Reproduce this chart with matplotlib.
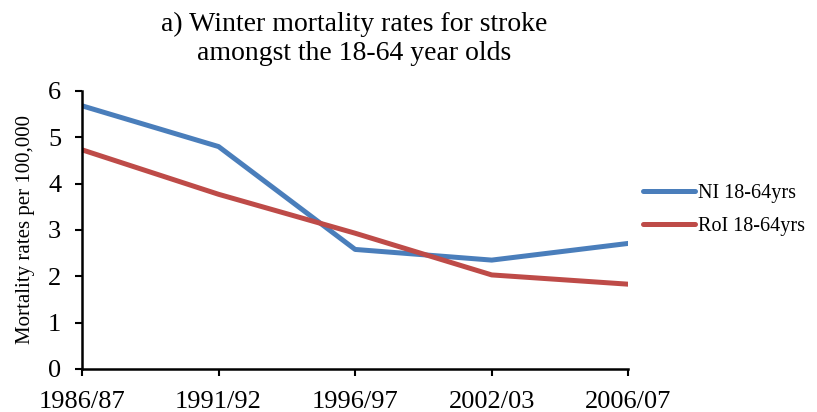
import matplotlib.pyplot as plt

seasons = ["1986/87", "1991/92", "1996/97", "2002/03", "2006/07"]
ni_rates = [5.68, 4.80, 2.58, 2.35, 2.71]
roi_rates = [4.73, 3.77, 2.93, 2.03, 1.83]

plt.rcParams['font.family'] = ['Liberation Serif', 'DejaVu Serif']

fig = plt.figure(figsize=(8.17, 4.12), dpi=100)
ax = fig.add_axes([0.1004, 0.1044, 0.6686, 0.6748])

x = range(len(seasons))
ax.plot(x, ni_rates, color='#4A7EBB', lw=3.6, label='NI 18-64yrs', solid_capstyle='round')
ax.plot(x, roi_rates, color='#BE4B48', lw=3.6, label='RoI 18-64yrs', solid_capstyle='round')

ax.set_xlim(0, len(seasons) - 1)
ax.set_ylim(0, 6)
ax.set_xticks(list(x))
ax.set_xticklabels(seasons, fontsize=19)
ax.set_yticks(range(0, 7))
ax.tick_params(axis='y', labelsize=19, direction='out', length=5, width=1.5, pad=10)
ax.tick_params(axis='x', direction='out', length=5, width=1.5, pad=11)
ax.set_ylabel('Mortality rates per 100,000', fontsize=15, labelpad=9)

for side in ('top', 'right'):
    ax.spines[side].set_visible(False)
for side in ('left', 'bottom'):
    ax.spines[side].set_linewidth(1.8)

fig.text(0.434, 0.972, 'a) Winter mortality rates for stroke\namongst the 18-64 year olds',
         ha='center', va='top', fontsize=20, linespacing=1.25)

fig.legend(loc='center left', bbox_to_anchor=(0.765, 0.49), frameon=False,
           fontsize=14.5, handlelength=2.6, handletextpad=0.1, labelspacing=0.7)

fig.savefig('out.png', dpi=100)
